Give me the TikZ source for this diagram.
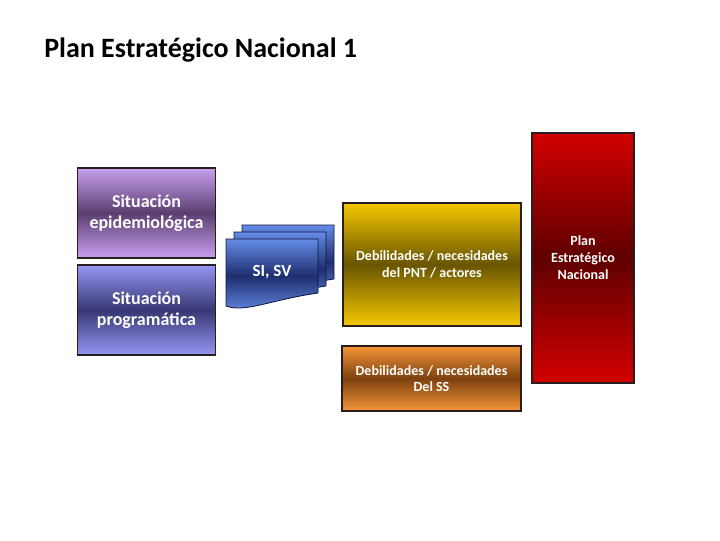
\documentclass[tikz,border=0pt]{standalone}
\usepackage{fontspec}
\setmainfont{Carlito}

\definecolor{epiLight}{RGB}{200,160,240}
\definecolor{epiDark}{RGB}{92,62,112}
\definecolor{progLight}{RGB}{150,150,245}
\definecolor{progDark}{RGB}{55,55,115}
\definecolor{docLight}{RGB}{100,140,230}
\definecolor{docDark}{RGB}{30,45,110}
\definecolor{docEdge}{RGB}{15,20,60}
\definecolor{pntLight}{RGB}{245,200,0}
\definecolor{pntDark}{RGB}{105,85,0}
\definecolor{ssLight}{RGB}{245,150,55}
\definecolor{ssDark}{RGB}{125,65,15}
\definecolor{penLight}{RGB}{210,0,0}
\definecolor{penDark}{RGB}{95,0,0}
\definecolor{boxEdge}{RGB}{40,30,30}

\tikzset{
	slidebox/.style={draw=boxEdge, line width=0.8pt, text=white, align=center, inner sep=0pt},
	epibox/.style={slidebox, top color=epiLight, bottom color=epiLight, middle color=epiDark,
		minimum width=103.5pt, minimum height=67.5pt, font=\fontsize{13.5}{15.75}\selectfont\bfseries},
	progbox/.style={slidebox, top color=progLight, bottom color=progLight, middle color=progDark,
		minimum width=103.5pt, minimum height=67.5pt, font=\fontsize{13.5}{15.75}\selectfont\bfseries},
	pntbox/.style={slidebox, top color=pntLight, bottom color=pntLight, middle color=pntDark,
		minimum width=133.5pt, minimum height=92.25pt, font=\fontsize{10.5}{12.5}\selectfont\bfseries},
	ssbox/.style={slidebox, top color=ssLight, bottom color=ssLight, middle color=ssDark,
		minimum width=134.25pt, minimum height=48.75pt, font=\fontsize{10.5}{12.5}\selectfont\bfseries},
	penbox/.style={slidebox, top color=penLight, bottom color=penLight, middle color=penDark,
		minimum width=76.5pt, minimum height=187.5pt, font=\fontsize{10.5}{12.75}\selectfont\bfseries},
	docsheet/.style={draw=docEdge, line width=0.6pt, top color=docLight, bottom color=docLight, middle color=docDark},
}

\begin{document}
\begin{tikzpicture}[x=0.75pt,y=0.75pt,yscale=-1,xscale=1]
	\useasboundingbox (0,0) rectangle (720,540);
	
	% title
	\node [anchor=west, inner sep=0pt, font=\fontsize{21}{25}\selectfont\bfseries] (title) at (44,50) {Plan Estratégico Nacional 1};
	
	% left boxes
	\node [epibox] (epi) at (146.5,213) {Situación\\epidemiológica};
	\node [progbox] (prog) at (146.5,310) {Situación\\programática};
	
	% stacked documents
	\foreach \dx/\dy in {16/-14,8/-7,0/0}
	{
		\draw [docsheet, shift={(\dx,\dy)}] (226,239) -- (318,239) -- (318,293) .. controls (270,300) and (245,313) .. (226,306) -- cycle ;
	}
	\node [text=white, font=\fontsize{12.75}{15}\selectfont\bfseries] (sisv) at (272,272) {SI, SV};
	
	% middle boxes
	\node [pntbox] (pnt) at (432,264.5) {Debilidades / necesidades\\del PNT / actores};
	\node [ssbox] (ss) at (431.5,378.5) {Debilidades / necesidades\\Del SS};
	
	% right box
	\node [penbox] (pen) at (583,258) {Plan\\Estratégico\\Nacional};
	
\end{tikzpicture}
\end{document}
